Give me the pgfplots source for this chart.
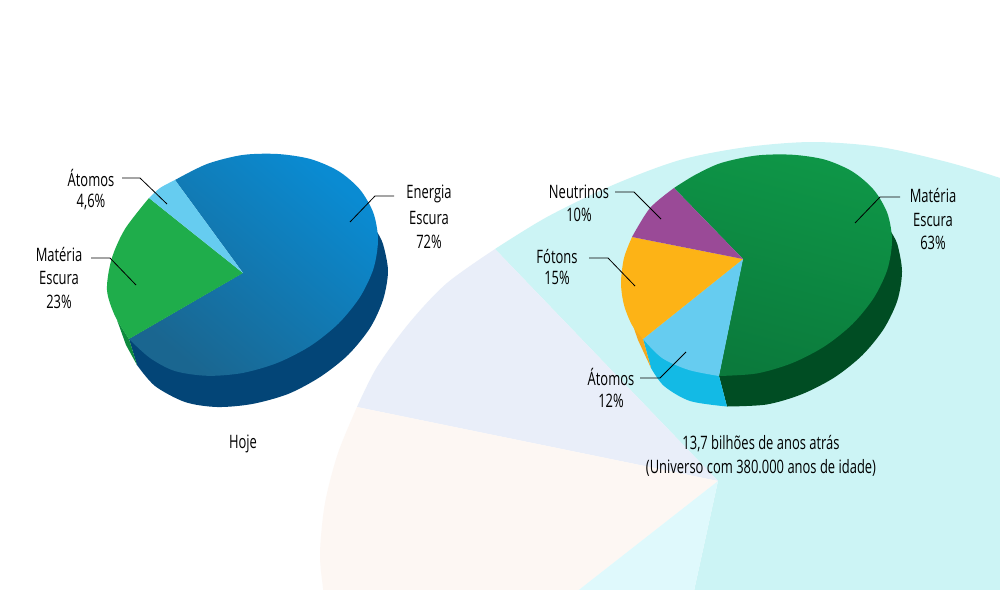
\documentclass[border=0pt]{standalone}
\usepackage{fontspec}
\setmainfont[FakeStretch=0.70]{Open Sans}
\usepackage{pgfplots}
\pgfplotsset{compat=1.18}
\definecolor{bgmain}{HTML}{CCF4F5}
\definecolor{bglav}{HTML}{E9EEF9}
\definecolor{bgcream}{HTML}{FDF7F3}
\definecolor{bglight}{HTML}{DFF9FC}
\definecolor{bladeA}{HTML}{0A8BD2}
\definecolor{bladeB}{HTML}{1A6690}
\definecolor{bside}{HTML}{034577}
\definecolor{gA}{HTML}{1FAD4B}
\definecolor{gside}{HTML}{0E8A3E}
\definecolor{lblue}{HTML}{66CCF0}
\definecolor{dgA}{HTML}{0E9647}
\definecolor{dgB}{HTML}{0B7A3C}
\definecolor{dgside}{HTML}{004D23}
\definecolor{purp}{HTML}{9A4A97}
\definecolor{orng}{HTML}{FDB316}
\definecolor{orngs}{HTML}{F5A81C}
\definecolor{cyans}{HTML}{13BAE5}
\begin{document}
\begin{tikzpicture}[lab/.style={font=\fontsize{18.5}{20}\selectfont,text=black,inner sep=0pt,anchor=center}]
\begin{axis}[scale only axis,width=1000pt,height=589pt,xmin=0,xmax=1000,ymin=0,ymax=589,y dir=reverse,hide axis,clip=true]
\addplot[fill=white,draw=none] coordinates {(0,0)(1000,0)(1000,589)(0,589)} -- cycle;
% background wheel
\addplot[fill=bgmain,draw=none,smooth] coordinates {(495,249)(547,217)(613,185)(680,160)(747,147)(813,142)(880,147)(947,162)(1000,178)(1030,190)} -- (axis cs:1030,600) -- (axis cs:692,600) -- (axis cs:718,481) -- cycle;
\addplot[fill=bglav,draw=none,smooth] coordinates {(357,407)(377,367)(410,322)(447,283)(495,249)} -- (axis cs:718,481) -- cycle;
\addplot[fill=bgcream,draw=none,smooth] coordinates {(357,407)(338,453)(325,503)(320,553)(323,588)(326,610)} -- (axis cs:566,600) -- (axis cs:718,481) -- cycle;
\addplot[fill=bglight,draw=none] coordinates {(718,481)(566,600)(692,600)} -- cycle;
% pie 1 sides
\addplot[fill=bside,draw=none,smooth] coordinates {(377,232)(383,244)(388,271)(383,300)(370,328)(348,355)(320,377)(288,394)(252,404)(217,407)(185,402)(155,386)(137,365)} -- (axis cs:129,339) -- (axis cs:243,273) -- cycle;
\addplot[fill=gside,draw=none] coordinates {(117,320)(129,339)(137,365)(126,345)} -- cycle;
% pie 1 top
\addplot[draw=none,shade,shading=axis,top color=bladeA,middle color=bladeA,bottom color=bladeB,shading angle=-40,smooth] coordinates {(175,180)(207,164)(242.5,155)(277.6,154)(310.3,159)(338.3,171)(359.8,189.4)(373.4,213)(378,240)(373.4,268.9)(359.8,297.3)(338.3,323.7)(310.3,346)(277.6,362.8)(242.5,373)(207.4,375.8)(174.8,371)(150,358)(129,339)} -- (axis cs:243,273) -- cycle;
\addplot[fill=gA,draw=none,smooth] coordinates {(129,339)(115,316)(107,290)(111.6,259)(125,229)(149,198)} -- (axis cs:243,273) -- cycle;
\addplot[fill=lblue,draw=none,smooth] coordinates {(149,198)(160,188)(175,180)} -- (axis cs:243,273) -- cycle;
% pie 2 sides
\addplot[fill=dgside,draw=none,smooth] coordinates {(891,232)(897.4,244.4)(902,271.5)(897.4,300.4)(883.8,328.8)(862.3,355.2)(834.3,377.5)(801.6,394.3)(766.5,404.5)(727,406.5)} -- (axis cs:719,376) -- (axis cs:743,259) -- cycle;
\addplot[fill=cyans,draw=none,smooth] coordinates {(651,368)(664,386)(690,401)(727,406.5)} -- (axis cs:719,376) -- (axis cs:643,339) -- cycle;
\addplot[fill=orngs,draw=none] coordinates {(630,317)(643,339)(651,368)(638,340)} -- cycle;
% pie 2 top
\addplot[draw=none,shade,shading=axis,top color=dgA,middle color=dgA,bottom color=dgB,shading angle=-15,smooth] coordinates {(674,188)(695,175)(721,163)(756.5,155.5)(791.6,154.7)(824.3,159.5)(852.3,171.5)(873.8,189.9)(887.4,213.4)(892,240.5)(887.4,269.4)(873.8,297.8)(852.3,324.2)(824.3,346.5)(791.6,363.3)(756.5,373.5)(719,376)} -- (axis cs:743,259) -- cycle;
\addplot[fill=lblue,draw=none,smooth] coordinates {(719,376)(688.8,370)(662,358)(643,339)} -- (axis cs:743,259) -- cycle;
\addplot[fill=orng,draw=none,smooth] coordinates {(643,339)(632,325)(624,305)(621,283)(624,258)(632,237)} -- (axis cs:743,259) -- cycle;
\addplot[fill=purp,draw=none,smooth] coordinates {(632,237)(650,208)(674,188)} -- (axis cs:743,259) -- cycle;
% leader lines
\addplot[black,line width=0.8pt] coordinates {(122,178)(140,178)(167,204)};
\addplot[black,line width=0.8pt] coordinates {(394,196)(375,196)(350,222)};
\addplot[black,line width=0.8pt] coordinates {(91,258)(110,258)(136,285)};
\addplot[black,line width=0.8pt] coordinates {(615,192)(634,192)(661,219)};
\addplot[black,line width=0.8pt] coordinates {(589,258)(608,258)(635,286)};
\addplot[black,line width=0.8pt] coordinates {(640,378)(660,378)(686,352)};
\addplot[black,line width=0.8pt] coordinates {(900,197)(880,197)(855,223)};
% labels
\node[lab] at (axis cs:91,178) {Átomos};
\node[lab] at (axis cs:91,202) {4,6\%};
\node[lab] at (axis cs:59,254) {Matéria};
\node[lab] at (axis cs:59,278) {Escura};
\node[lab] at (axis cs:59,302) {23\%};
\node[lab] at (axis cs:429,194) {Energia};
\node[lab] at (axis cs:429,218) {Escura};
\node[lab] at (axis cs:429,242) {72\%};
\node[lab] at (axis cs:243,444) {Hoje};
\node[lab] at (axis cs:579,192) {Neutrinos};
\node[lab] at (axis cs:579,215) {10\%};
\node[lab] at (axis cs:557,256) {Fótons};
\node[lab] at (axis cs:557,278) {15\%};
\node[lab] at (axis cs:611,377) {Átomos};
\node[lab] at (axis cs:611,401) {12\%};
\node[lab] at (axis cs:933,196) {Matéria};
\node[lab] at (axis cs:933,220) {Escura};
\node[lab] at (axis cs:933,243) {63\%};
\node[lab] at (axis cs:761,444) {13,7 bilhões de anos atrás};
\node[lab] at (axis cs:761,468) {(Universo com 380.000 anos de idade)};
\end{axis}
\end{tikzpicture}
\end{document}
